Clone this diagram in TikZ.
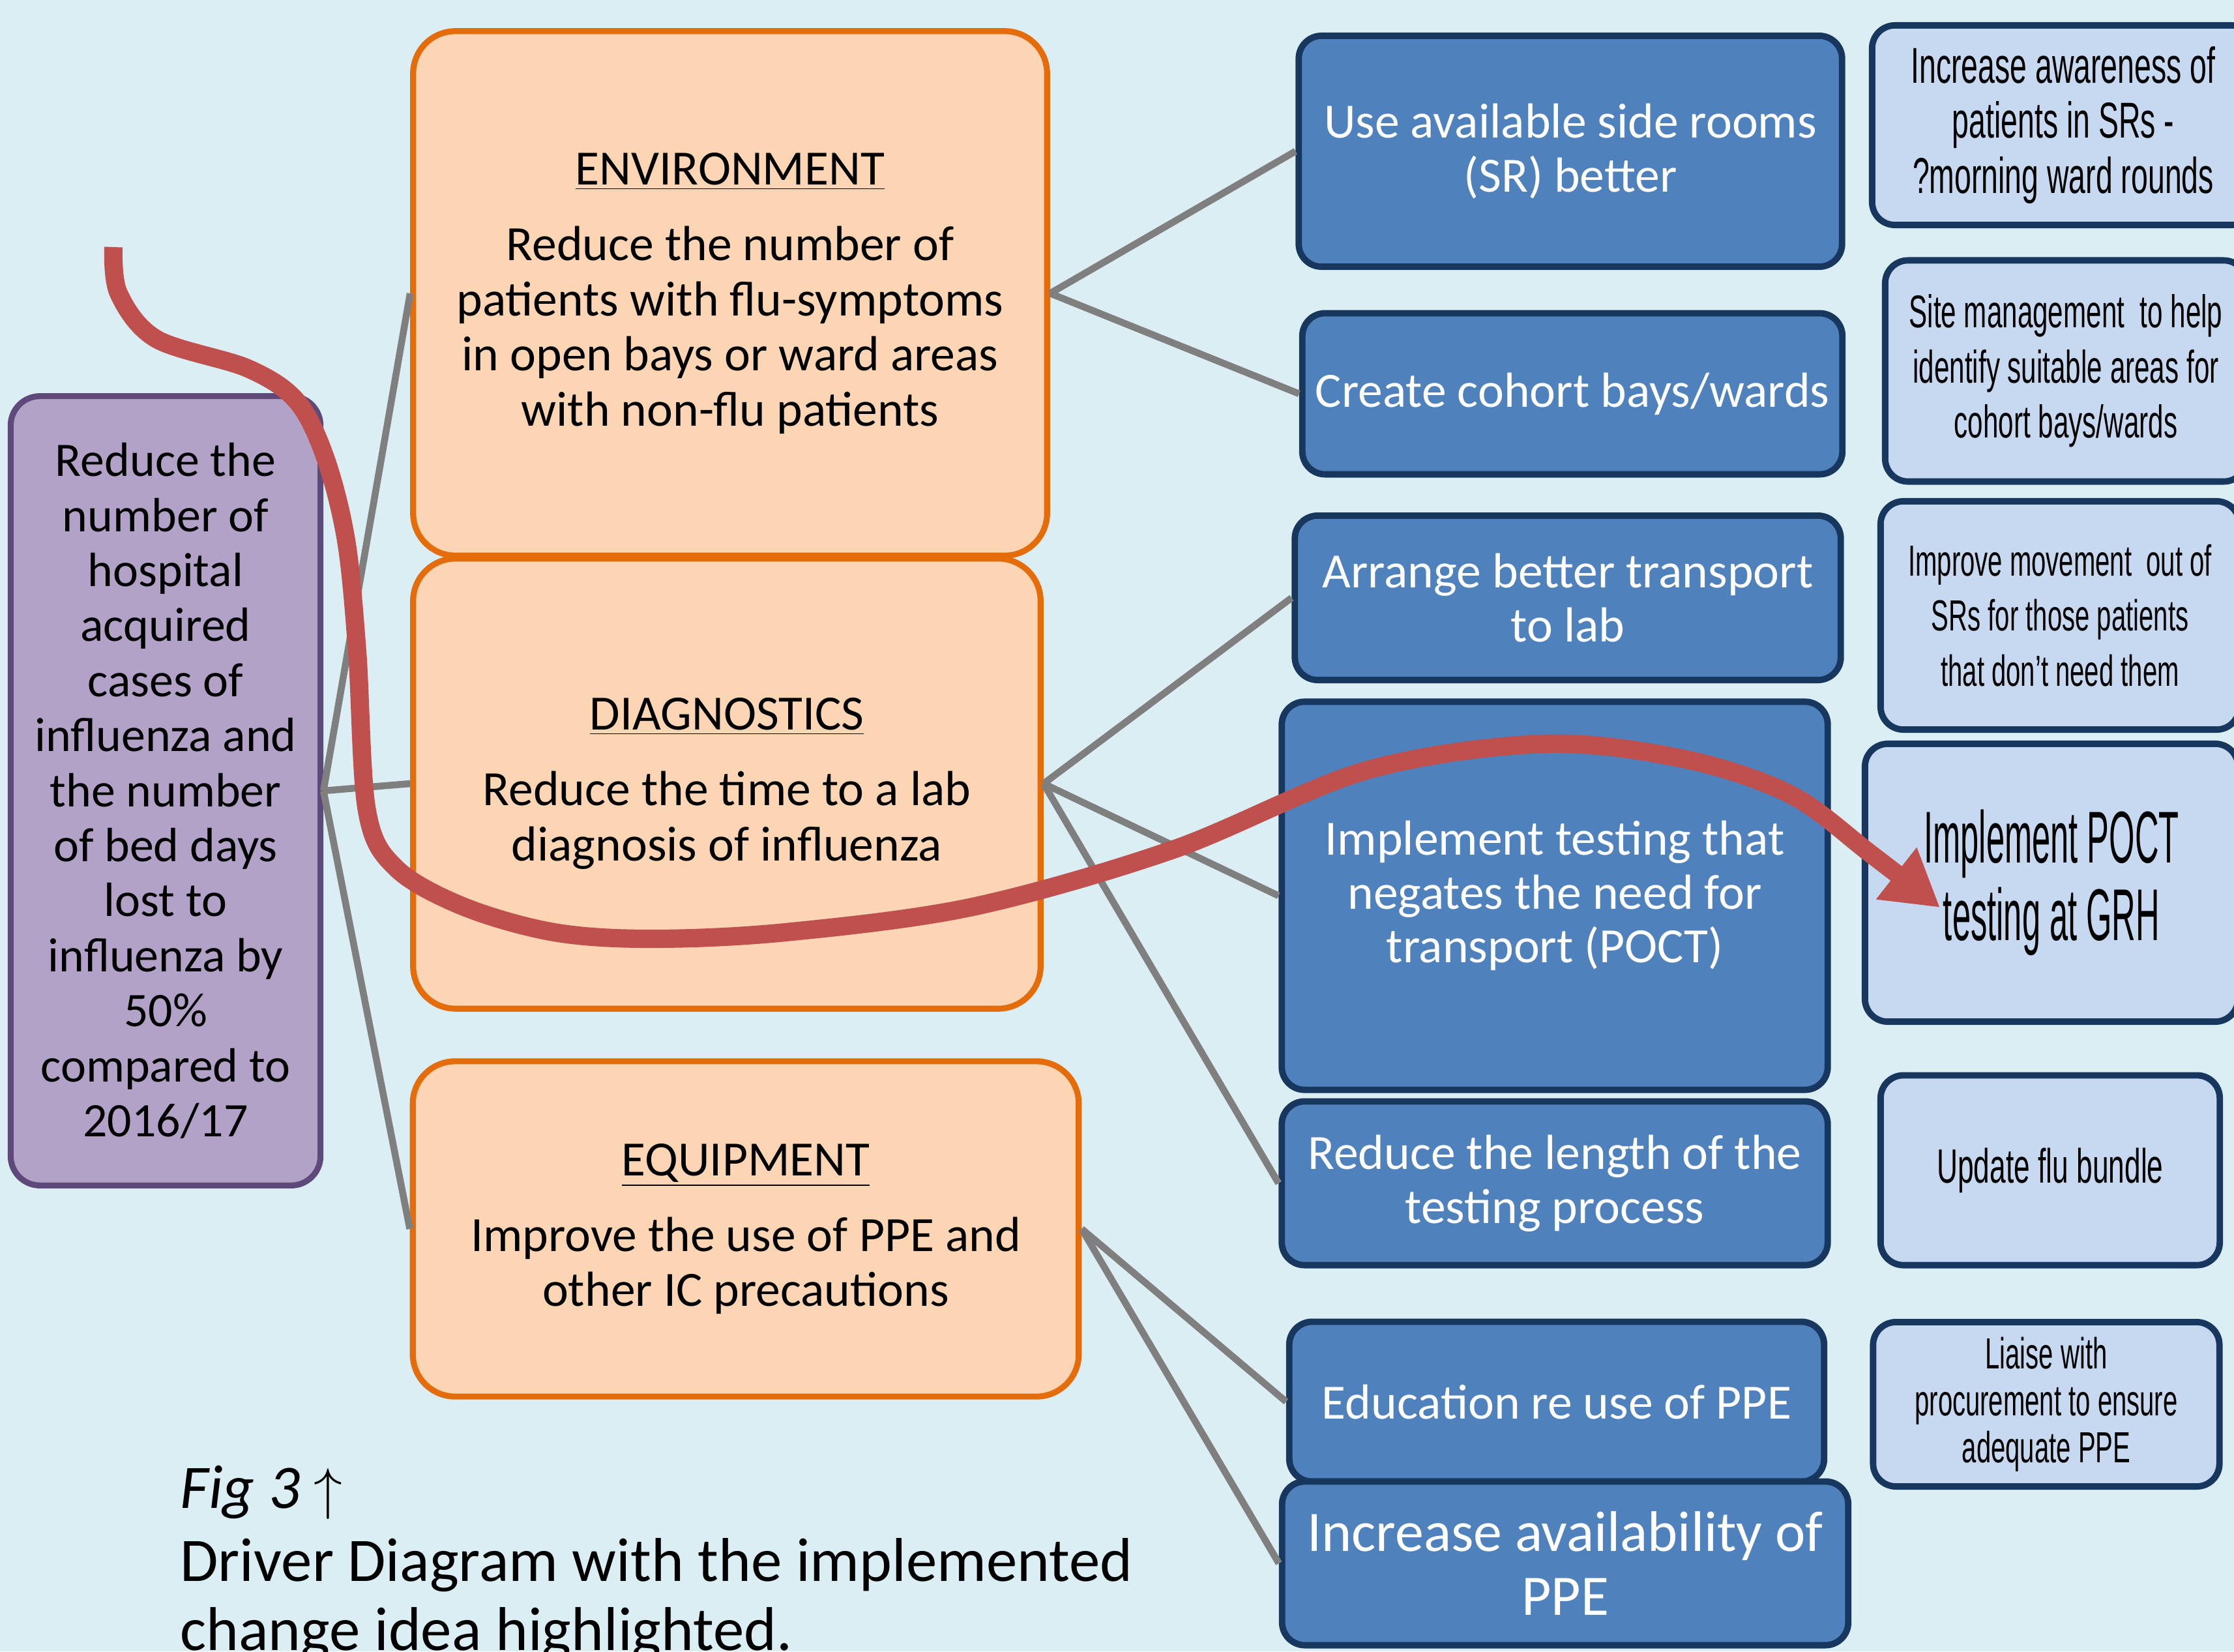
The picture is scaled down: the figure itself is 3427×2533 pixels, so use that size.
\documentclass[tikz,border=0pt]{standalone}
\usepackage{fontspec}
\setmainfont{Carlito}
\newfontfamily\narrowfont[FakeStretch=0.6]{Liberation Sans}
\newfontfamily\tightfont[FakeStretch=0.45]{Liberation Sans}
\usetikzlibrary{arrows.meta}

\definecolor{bgblue}{HTML}{DAEEF3}
\definecolor{goalfill}{HTML}{B3A2C7}
\definecolor{goalline}{HTML}{5F497A}
\definecolor{drvfill}{HTML}{FCD5B5}
\definecolor{drvline}{HTML}{E46C0A}
\definecolor{chgfill}{HTML}{4F81BD}
\definecolor{navy}{HTML}{17375E}
\definecolor{ideafill}{HTML}{C6D9F1}
\definecolor{linkgray}{HTML}{7F7F7F}
\definecolor{hlred}{HTML}{C0504D}

\tikzset{
  goal/.style={draw=goalline, fill=goalfill, line width=2.6pt, rounded corners=0.45cm,
    align=center, font=\fontsize{21}{24}\selectfont},
  driver/.style={draw=drvline, fill=drvfill, line width=2.6pt, rounded corners=0.65cm,
    align=center, font=\fontsize{21.5}{24}\selectfont},
  change/.style={draw=navy, fill=chgfill, text=white, line width=2.8pt, rounded corners=0.35cm,
    align=center, font=\fontsize{21.5}{23.5}\selectfont},
  idea/.style={draw=navy, fill=ideafill, line width=2.8pt, rounded corners=0.35cm,
    align=center, font=\narrowfont\fontsize{21}{24}\selectfont},
  link/.style={draw=linkgray, line width=3pt},
  highlight/.style={draw=hlred, line width=8pt, -{Triangle[length=0.85cm, width=0.95cm]}},
}

\begin{document}
\begin{tikzpicture}[x=0.01cm, y=-0.01cm]
    \useasboundingbox (0, 0) rectangle (3427, 2533);
    \clip (0, 0) rectangle (3427, 2533);
    \fill [bgblue] (0, 0) rectangle (3427, 2533);

    % outcome
    \node [goal, minimum width=4.75cm, minimum height=12.1cm] (aim) at (254, 1213)
        {Reduce the\\ number of\\ hospital\\ acquired\\ cases of\\ influenza and\\ the number\\ of bed days\\ lost to\\ influenza by\\ 50\%\\ compared to\\ 2016/17};

    % primary drivers
    \node [driver, minimum width=9.72cm, minimum height=8.04cm] (env) at (1120, 450)
        {\underline{ENVIRONMENT}\\[9pt] Reduce the number of\\ patients with flu-symptoms\\ in open bays or ward areas\\ with non-flu patients};
    \node [driver, minimum width=9.62cm, minimum height=6.9cm] (diag) at (1115, 1202)
        {\underline{DIAGNOSTICS}\\[9pt] Reduce the time to a lab\\ diagnosis of influenza};
    \node [driver, minimum width=10.21cm, minimum height=5.14cm] (equip) at (1144, 1885)
        {\underline{EQUIPMENT}\\[9pt] Improve the use of PPE and\\ other IC precautions};

    % secondary drivers
    \node [change, minimum width=8.33cm, minimum height=3.54cm] (side) at (2409, 232)
        {Use available side rooms\\ (SR) better};
    \node [change, minimum width=8.28cm, minimum height=2.47cm] (cohort) at (2412, 604)
        {Create cohort bays/wards};
    \node [change, minimum width=8.37cm, minimum height=2.52cm] (trans) at (2405, 917)
        {Arrange better transport\\ to lab};
    \node [change, minimum width=8.37cm, minimum height=5.95cm] (poct) at (2385, 1374)
        {Implement testing that\\ negates the need for\\ transport (POCT)};
    \node [change, minimum width=8.37cm, minimum height=2.51cm] (length) at (2385, 1815)
        {Reduce the length of the\\ testing process};
    \node [change, minimum width=8.2cm, minimum height=2.45cm] (educ) at (2388, 2150)
        {Education re use of PPE};
    \node [change, minimum width=8.68cm, minimum height=2.51cm, font=\fontsize{25}{28}\selectfont] (avail) at (2401, 2398)
        {Increase availability of\\ PPE};

    % change ideas
    \node [idea, minimum width=5.86cm, minimum height=3.06cm, font=\narrowfont\fontsize{22}{24}\selectfont] (aware) at (3165, 192)
        {Increase awareness of\\ patients in SRs -\\ ?morning ward rounds};
    \node [idea, minimum width=5.54cm, minimum height=3.39cm, font=\narrowfont\fontsize{20}{24}\selectfont] (site) at (3169, 569)
        {Site management\ \ to help\\ identify suitable areas for\\ cohort bays/wards};
    \node [idea, minimum width=5.5cm, minimum height=3.5cm, font=\narrowfont\fontsize{19}{24}\selectfont] (move) at (3160, 944)
        {Improve movement\ \ out of\\ SRs for those patients\\ that don’t need them};
    \node [idea, minimum width=5.72cm, minimum height=4.26cm, font=\tightfont\fontsize{32}{34}\selectfont] (grh) at (3147, 1354)
        {Implement POCT\\ testing at GRH};
    \node [idea, minimum width=5.2cm, minimum height=2.91cm] (bundle) at (3145, 1795)
        {Update flu bundle};
    \node [idea, minimum width=5.31cm, minimum height=2.52cm, font=\narrowfont\fontsize{19}{20.5}\selectfont] (liaise) at (3139, 2154)
        {Liaise with\\ procurement to ensure\\ adequate PPE};

    % links
    \draw [link] (aim.east) -- (env.west);
    \draw [link] (aim.east) -- (diag.west);
    \draw [link] (aim.east) -- (equip.west);
    \draw [link] (env.east) -- (side.west);
    \draw [link] (env.east) -- (cohort.west);
    \draw [link] (diag.east) -- (trans.west);
    \draw [link] (diag.east) -- (poct.west);
    \draw [link] (diag.east) -- (length.west);
    \draw [link] (equip.east) -- (educ.west);
    \draw [link] (equip.east) -- (avail.west);

    % caption (last line runs off the bottom)
    \node [anchor=base west, align=left, font=\fontsize{27}{30}\selectfont] (cap) at (264, 2531)
        {\textit{Fig 3} $\uparrow$\\[2pt] Driver Diagram with the implemented\\ change idea highlighted.};

    % implemented change idea
    \coordinate (hl start) at (174, 379);
    \coordinate (hl tip) at (2976, 1392);
    \draw [highlight] plot [smooth, tension=0.55] coordinates {(hl start) (182, 450) (240, 520) (380, 565)
        (455, 615) (499, 702) (531, 829) (548, 1000) (563, 1244) (608, 1332) (712, 1391) (850, 1430)
        (999, 1440) (1205, 1430) (1492, 1391) (1800, 1303) (2095, 1182) (2367, 1141) (2582, 1164)
        (2747, 1219) (2870, 1310) (hl tip)};
\end{tikzpicture}
\end{document}
